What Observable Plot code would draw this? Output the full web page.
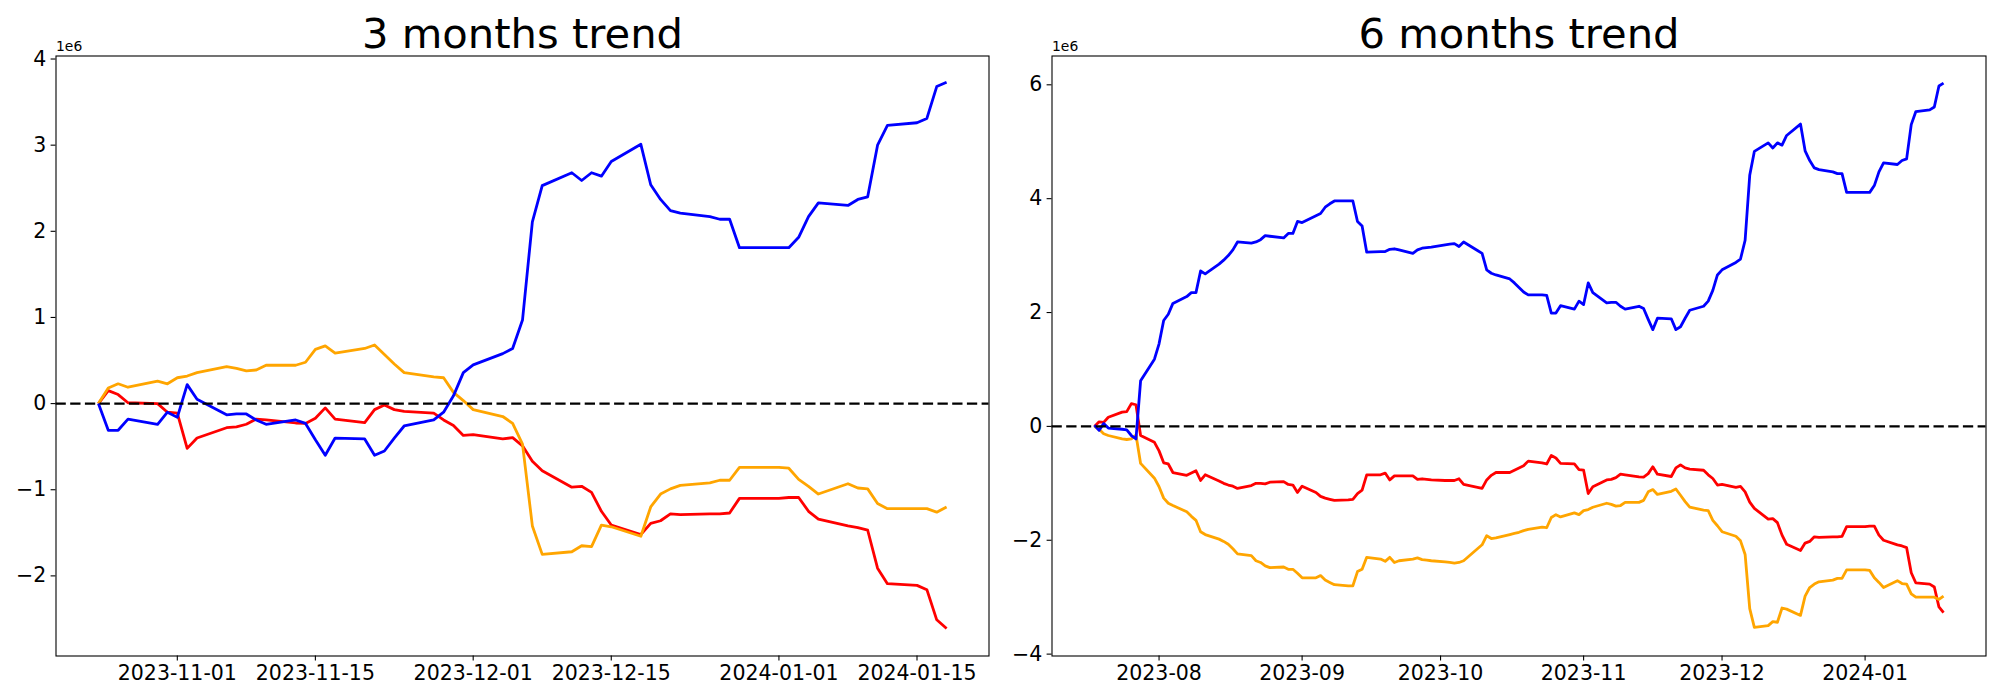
<!DOCTYPE html>
<html><head><meta charset="utf-8">
<script src="https://cdn.jsdelivr.net/npm/d3@7"></script>
<script src="https://cdn.jsdelivr.net/npm/@observablehq/plot@0.6"></script>
<style>
body{margin:0;background:#fff;}
#wrap{position:relative;width:2000px;height:700px;overflow:hidden;}
#wrap > div{position:absolute;top:0;}
svg{font-family:"DejaVu Sans",sans-serif;}
</style></head><body>
<div id="wrap"><div id="p3" style="left:0"></div><div id="p6" style="left:1000px"></div></div>
<script>
// ---------- 3 months panel ----------
const dates3 = ["2023-10-24","2023-10-25","2023-10-26","2023-10-27","2023-10-30","2023-10-31",
"2023-11-01","2023-11-02","2023-11-03","2023-11-06","2023-11-07","2023-11-08","2023-11-09","2023-11-10","2023-11-13","2023-11-14","2023-11-15","2023-11-16","2023-11-17","2023-11-20","2023-11-21","2023-11-22","2023-11-23","2023-11-24","2023-11-27","2023-11-28","2023-11-29","2023-11-30",
"2023-12-01","2023-12-04","2023-12-05","2023-12-06","2023-12-07","2023-12-08","2023-12-11","2023-12-12","2023-12-13","2023-12-14","2023-12-15","2023-12-18","2023-12-19","2023-12-20","2023-12-21","2023-12-22","2023-12-25","2023-12-26","2023-12-27","2023-12-28","2023-12-29",
"2024-01-01","2024-01-02","2024-01-03","2024-01-04","2024-01-05","2024-01-08","2024-01-09","2024-01-10","2024-01-11","2024-01-12","2024-01-15","2024-01-16","2024-01-17","2024-01-18"];
const blue3 = [0,-0.31,-0.31,-0.18,-0.24,-0.10,
-0.16,0.22,0.05,-0.13,-0.12,-0.12,-0.19,-0.24,-0.19,-0.23,-0.42,-0.60,-0.40,-0.41,-0.60,-0.55,-0.40,-0.26,-0.19,-0.10,0.09,0.36,
0.45,0.58,0.64,0.97,2.11,2.53,2.68,2.59,2.68,2.64,2.81,3.01,2.54,2.37,2.24,2.21,2.17,2.14,2.14,1.81,1.81,
1.81,1.81,1.93,2.17,2.33,2.30,2.37,2.40,3.00,3.23,3.26,3.31,3.68,3.73];
const red3 = [0,0.15,0.105,0.01,0.0,-0.10,
-0.11,-0.52,-0.40,-0.28,-0.27,-0.24,-0.18,-0.19,-0.225,-0.23,-0.17,-0.05,-0.18,-0.22,-0.07,-0.015,-0.07,-0.09,-0.11,-0.19,-0.255,-0.37,
-0.36,-0.41,-0.395,-0.49,-0.67,-0.78,-0.97,-0.96,-1.03,-1.25,-1.41,-1.52,-1.39,-1.36,-1.28,-1.29,-1.28,-1.28,-1.27,-1.10,-1.10,
-1.10,-1.09,-1.09,-1.25,-1.34,-1.42,-1.44,-1.47,-1.91,-2.09,-2.11,-2.16,-2.51,-2.61];
const orange3 = [0,0.18,0.23,0.19,0.26,0.23,
0.30,0.32,0.36,0.43,0.41,0.38,0.39,0.445,0.445,0.48,0.63,0.67,0.585,0.64,0.68,0.57,0.46,0.36,0.31,0.30,0.13,0.035,
-0.07,-0.15,-0.23,-0.47,-1.42,-1.75,-1.72,-1.65,-1.66,-1.41,-1.43,-1.54,-1.20,-1.05,-0.99,-0.95,-0.92,-0.89,-0.89,-0.74,-0.74,
-0.74,-0.75,-0.88,-0.96,-1.05,-0.93,-0.98,-0.99,-1.16,-1.22,-1.22,-1.22,-1.26,-1.20];

// ---------- 6 months panel ----------
const datesEarly6 = ["2023-07-18","2023-07-19","2023-07-20","2023-07-21","2023-07-24","2023-07-25","2023-07-26","2023-07-27","2023-07-28","2023-07-31",
"2023-08-01","2023-08-02","2023-08-03","2023-08-04","2023-08-07","2023-08-08","2023-08-09","2023-08-10","2023-08-11","2023-08-14","2023-08-15","2023-08-16","2023-08-17","2023-08-18","2023-08-21","2023-08-22","2023-08-23","2023-08-24","2023-08-25","2023-08-28","2023-08-29","2023-08-30","2023-08-31",
"2023-09-01","2023-09-04","2023-09-05","2023-09-06","2023-09-07","2023-09-08","2023-09-11","2023-09-12","2023-09-13","2023-09-14","2023-09-15","2023-09-18","2023-09-19","2023-09-20","2023-09-21","2023-09-22","2023-09-25","2023-09-26","2023-09-27","2023-09-28","2023-09-29",
"2023-10-02","2023-10-03","2023-10-04","2023-10-05","2023-10-06","2023-10-09","2023-10-10","2023-10-11","2023-10-12","2023-10-13","2023-10-16","2023-10-17","2023-10-18","2023-10-19","2023-10-20","2023-10-23"];
const dates6 = [...datesEarly6, ...dates3];
const blue6 = [0.02,-0.07,0.05,-0.03,-0.05,-0.06,-0.16,-0.22,0.80,1.18,
1.45,1.86,1.97,2.16,2.28,2.35,2.35,2.73,2.68,2.85,2.92,3.00,3.10,3.24,3.22,3.24,3.28,3.35,3.34,3.31,3.39,3.39,3.60,
3.58,3.70,3.74,3.85,3.91,3.96,3.96,3.96,3.60,3.52,3.06,3.07,3.07,3.11,3.12,3.10,3.04,3.10,3.13,3.14,3.15,
3.19,3.20,3.21,3.16,3.24,3.09,3.04,2.75,2.69,2.66,2.59,2.52,2.44,2.36,2.31,2.31,
2.30,1.99,1.99,2.12,2.06,2.20,
2.14,2.52,2.35,2.17,2.18,2.18,2.11,2.06,2.11,2.07,1.88,1.70,1.90,1.89,1.70,1.75,1.90,2.04,2.11,2.20,2.39,2.66,
2.75,2.88,2.94,3.27,4.41,4.83,4.98,4.89,4.98,4.94,5.11,5.31,4.84,4.67,4.54,4.51,4.47,4.44,4.44,4.11,4.11,
4.11,4.11,4.23,4.47,4.63,4.60,4.67,4.70,5.30,5.53,5.56,5.61,5.98,6.03];
const red6 = [0.0,0.08,0.07,0.16,0.25,0.26,0.40,0.38,-0.16,-0.28,
-0.43,-0.64,-0.66,-0.81,-0.86,-0.82,-0.78,-0.95,-0.85,-0.96,-1.00,-1.03,-1.05,-1.09,-1.04,-1.00,-1.00,-1.01,-0.98,-0.97,-1.02,-1.03,-1.16,
-1.05,-1.16,-1.23,-1.26,-1.28,-1.30,-1.29,-1.28,-1.18,-1.12,-0.85,-0.85,-0.82,-0.94,-0.87,-0.87,-0.87,-0.93,-0.92,-0.93,-0.94,
-0.95,-0.95,-0.95,-0.92,-1.02,-1.07,-1.09,-0.94,-0.86,-0.81,-0.81,-0.77,-0.73,-0.69,-0.61,-0.64,
-0.66,-0.51,-0.555,-0.65,-0.66,-0.76,
-0.77,-1.18,-1.06,-0.94,-0.93,-0.90,-0.84,-0.85,-0.885,-0.89,-0.83,-0.71,-0.84,-0.88,-0.73,-0.675,-0.73,-0.75,-0.77,-0.85,-0.915,-1.03,
-1.02,-1.07,-1.055,-1.15,-1.33,-1.44,-1.63,-1.62,-1.69,-1.91,-2.07,-2.18,-2.05,-2.02,-1.94,-1.95,-1.94,-1.94,-1.93,-1.76,-1.76,
-1.76,-1.75,-1.75,-1.91,-2.00,-2.08,-2.10,-2.13,-2.57,-2.75,-2.77,-2.82,-3.17,-3.27];
const orange6 = [0.0,-0.05,-0.13,-0.16,-0.22,-0.23,-0.22,-0.15,-0.65,-0.91,
-1.06,-1.26,-1.35,-1.39,-1.50,-1.58,-1.65,-1.85,-1.90,-1.98,-2.02,-2.07,-2.15,-2.24,-2.27,-2.36,-2.39,-2.45,-2.48,-2.47,-2.51,-2.51,-2.58,
-2.66,-2.66,-2.62,-2.70,-2.74,-2.78,-2.80,-2.80,-2.55,-2.51,-2.30,-2.33,-2.37,-2.30,-2.39,-2.36,-2.33,-2.31,-2.34,-2.35,-2.36,
-2.38,-2.39,-2.40,-2.39,-2.36,-2.15,-2.08,-1.92,-1.97,-1.96,-1.90,-1.88,-1.86,-1.83,-1.81,-1.77,
-1.78,-1.60,-1.55,-1.59,-1.52,-1.55,
-1.48,-1.46,-1.42,-1.35,-1.37,-1.40,-1.39,-1.335,-1.335,-1.30,-1.15,-1.11,-1.195,-1.14,-1.10,-1.21,-1.32,-1.42,-1.47,-1.48,-1.65,-1.745,
-1.85,-1.93,-2.01,-2.25,-3.20,-3.53,-3.50,-3.43,-3.44,-3.19,-3.21,-3.32,-2.98,-2.83,-2.77,-2.73,-2.70,-2.67,-2.67,-2.52,-2.52,
-2.52,-2.53,-2.66,-2.74,-2.83,-2.71,-2.76,-2.77,-2.94,-3.00,-3.00,-3.00,-3.04,-2.98];

// ---------- ticks ----------
const xTicks3 = ["2023-11-01","2023-11-15","2023-12-01","2023-12-15","2024-01-01","2024-01-15"];
const xTicks6 = ["2023-08-01","2023-09-01","2023-10-01","2023-11-01","2023-12-01","2024-01-01"];
const yTicks3 = [-2,-1,0,1,2,3,4];
const yTicks6 = [-4,-2,0,2,4,6];
const yDomain3 = [-2.93, 4.035];
const yDomain6 = [-4.033, 6.506];

const FONT = "DejaVu Sans";
function panel({dates, series, title, xTicks, xFmt, yTicks, yDomain, ml, mr}) {
  const t = dates.map(d => new Date(d));
  const ext = d3.extent(t);
  const span = ext[1] - ext[0];
  const xDomain = [new Date(+ext[0] - 0.05 * span), new Date(+ext[1] + 0.05 * span)];
  const lines = series.map(([color, vals]) =>
    Plot.line(vals.map((v, i) => ({date: t[i], v: v * 1e6})),
      {x: "date", y: "v", stroke: color, strokeWidth: 2.8, strokeLinejoin: "round", strokeLinecap: "butt"}));
  return Plot.plot({
    width: 1000, height: 700,
    marginLeft: ml, marginRight: mr, marginTop: 55.5, marginBottom: 44.5,
    style: {fontFamily: FONT, background: "white", color: "black", overflow: "visible"},
    x: {type: "utc", domain: xDomain},
    y: {domain: yDomain.map(v => v * 1e6)},
    marks: [
      ...lines,
      Plot.ruleY([0], {stroke: "black", strokeWidth: 2.1, strokeDasharray: "10.3,4.4"}),
      Plot.frame({stroke: "black", strokeWidth: 1.1}),
      Plot.axisX({ticks: xTicks.map(d => new Date(d)), tickFormat: d3.utcFormat(xFmt), tickSize: 4.9, tickPadding: 4.9,
        fontSize: 20.5, strokeWidth: 1.1, label: null, fill: "black"}),
      Plot.axisY({ticks: yTicks.map(v => v * 1e6), tickFormat: d => d3.format("d")(Math.round(d / 1e6)), tickSize: 4.9, tickPadding: 4.9,
        fontSize: 20.5, strokeWidth: 1.1, label: null, fill: "black"}),
      Plot.text([title], {frameAnchor: "top", dy: -8.3, lineAnchor: "bottom", fontSize: 41.7, fill: "black"}),
      Plot.text(["1e6"], {frameAnchor: "top-left", dy: -5.5, dx: 0, textAnchor: "start", lineAnchor: "bottom", fontSize: 13.9, fill: "black"})
    ]
  });
}

document.getElementById("p3").append(panel({
  dates: dates3, series: [["red", red3], ["orange", orange3], ["blue", blue3]],
  title: "3 months trend", xTicks: xTicks3, xFmt: "%Y-%m-%d", yTicks: yTicks3, yDomain: yDomain3, ml: 55.5, mr: 11.5
}));
document.getElementById("p6").append(panel({
  dates: dates6, series: [["red", red6], ["orange", orange6], ["blue", blue6]],
  title: "6 months trend", xTicks: xTicks6, xFmt: "%Y-%m", yTicks: yTicks6, yDomain: yDomain6, ml: 51.5, mr: 14.5
}));
</script>
</body></html>
